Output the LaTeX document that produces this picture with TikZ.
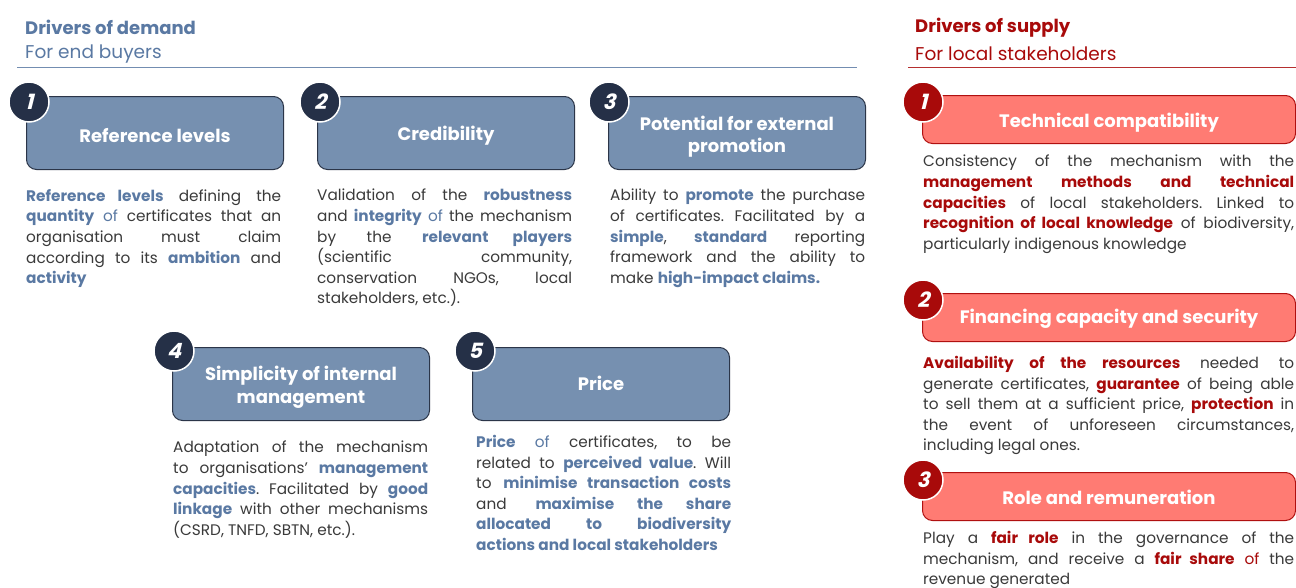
\documentclass[tikz,border=0pt]{standalone}
\usepackage{fontspec}
\setmainfont{Poppins}
\newfontfamily\numfont[BoldFeatures={FakeSlant=0.25}]{Poppins}
\definecolor{hblue}{HTML}{5A79A3}
\definecolor{dfill}{HTML}{7690B0}
\definecolor{dborder}{HTML}{2B3548}
\definecolor{navy}{HTML}{253047}
\definecolor{hred}{HTML}{A80A0A}
\definecolor{sfill}{HTML}{FF7B73}
\definecolor{sborder}{HTML}{B01010}
\definecolor{txt}{HTML}{3A3A3A}
\newcommand{\hb}[1]{\textbf{\color{hblue}#1}}
\newcommand{\hr}[1]{\textbf{\color{hred}#1}}
\newcommand{\nl}{\linebreak}
\newcommand{\nohy}{\frenchspacing\hyphenpenalty=10000\exhyphenpenalty=10000\tolerance=9999\emergencystretch=20pt\hfuzz=30pt}
\tikzset{
  dbox/.style={rounded corners=10pt, fill=dfill, draw=dborder, line width=1pt, anchor=north west,
    minimum width=257pt, minimum height=73pt},
  sbox/.style={rounded corners=10pt, fill=sfill, draw=sborder, line width=1pt, anchor=north west,
    minimum width=373pt, minimum height=48pt},
  ttl/.style={align=center, text=white, inner sep=0pt, font=\fontsize{18}{22.5}\selectfont\bfseries},
  dnum/.style={circle, fill=navy, draw=white, line width=1.5pt, minimum size=40pt, inner sep=0pt,
    text=white, font=\numfont\fontsize{21}{21}\selectfont\bfseries},
  snum/.style={dnum, fill=hred},
  body/.style={anchor=north west, inner sep=0pt, text width=255pt, align=justify, text=txt,
    font=\fontsize{15.3}{20.6}\selectfont\nohy},
  sbody/.style={body, text width=371pt},
  head/.style={anchor=west, inner sep=0pt},
}
\begin{document}
\begin{tikzpicture}[x=1pt,y=-1pt]
\useasboundingbox[fill=white] (0,0) rectangle (1296,587);
% headers
\node[head, text=hblue, font=\fontsize{18}{20}\selectfont\bfseries] (dh) at (25,27) {Drivers of demand};
\node[head, text=hblue, font=\fontsize{18.5}{20}\selectfont] (ds) at (25,54) {For end buyers};
\draw[hblue!85, line width=1pt] (17,67) -- (857,67);
\node[head, text=hred, font=\fontsize{18}{20}\selectfont\bfseries] (sh) at (915,28) {Drivers of supply};
\node[head, text=hred, font=\fontsize{18.5}{20}\selectfont] (ss) at (915,54) {For local stakeholders};
\draw[hred!85, line width=1pt] (908,67) -- (1296,67);
% demand boxes
\node[dbox] (b1) at (26,96) {};
\node[dbox] (b2) at (317,96) {};
\node[dbox] (b3) at (608,96) {};
\node[dbox] (b4) at (172,347) {};
\node[dbox] (b5) at (472,347) {};
\node[ttl, yshift=-3pt] (bt1) at (b1.center) {Reference levels};
\node[ttl, yshift=-3pt] (bt2) at (b2.center) {Credibility};
\node[ttl, yshift=-3.5pt] (bt3) at (b3.center) {Potential for external\\promotion};
\node[ttl, yshift=-3.5pt] (bt4) at (b4.center) {Simplicity of internal\\management};
\node[ttl, yshift=0.5pt] (bt5) at (b5.center) {Price};
\node[dnum] (n1) at (29,102) {1};
\node[dnum] (n2) at (320,102) {2};
\node[dnum] (n3) at (609,102) {3};
\node[dnum] (n4) at (174,351) {4};
\node[dnum] (n5) at (475,351) {5};
% demand text
\node[body] (t1) at (26,189) {\hb{Reference levels} defining the\nl{} \hb{quantity} \textcolor{hblue}{of} certificates that an\nl{} organisation must claim\nl{} according to its \hb{ambition} and\nl{} \hb{activity}};
\node[body] (t2) at (317,189) {Validation of the \hb{robustness}\nl{} and \hb{integrity} \textcolor{hblue}{of} the mechanism\nl{} by the \hb{relevant players}\nl{} (scientific community,\nl{} conservation NGOs, local\nl{} stakeholders, etc.).};
\node[body] (t3) at (610,189) {Ability to \hb{promote} the purchase\nl{} of certificates. Facilitated by a\nl{} \hb{simple}, \hb{standard} reporting\nl{} framework and the ability to\nl{} make \hb{high-impact claims.}};
\node[body] (t4) at (173,441) {Adaptation of the mechanism\nl{} to organisations' \hb{management}\nl{} \hb{capacities}. Facilitated by \hb{good}\nl{} \hb{linkage} with other mechanisms\nl{} (CSRD, TNFD, SBTN, etc.).};
\node[body] (t5) at (476,435) {\hb{Price} \textcolor{hblue}{of} certificates, to be\nl{} related to \hb{perceived value}. Will\nl{} to \hb{minimise transaction costs}\nl{} and \hb{maximise the share}\nl{} \hb{allocated to biodiversity}\nl{} \hb{actions and local stakeholders}};
% supply boxes
\node[sbox] (s1) at (922,95) {};
\node[sbox] (s2) at (922,293) {};
\node[sbox] (s3) at (922,472) {};
\node[ttl, yshift=-3pt] (st1) at (s1.center) {Technical compatibility};
\node[ttl, yshift=-1pt] (st2) at (s2.center) {Financing capacity and security};
\node[ttl, yshift=-1pt] (st3) at (s3.center) {Role and remuneration};
\node[snum] (m1) at (923,102) {1};
\node[snum] (m2) at (923,300) {2};
\node[snum] (m3) at (923,480) {3};
% supply text
\node[sbody] (u1) at (923,155) {Consistency of the mechanism with the\nl{} \hr{management methods and technical}\nl{} \hr{capacities} of local stakeholders. Linked to\nl{} \hr{recognition of local knowledge} of biodiversity,\nl{} particularly indigenous knowledge};
\node[sbody] (u2) at (923,356) {\hr{Availability of the resources} needed to\nl{} generate certificates, \hr{guarantee} of being able\nl{} to sell them at a sufficient price, \hr{protection} in\nl{} the event of unforeseen circumstances,\nl{} including legal ones.};
\node[sbody] (u3) at (923,531) {Play a \hr{fair role} in the governance of the\nl{} mechanism, and receive a \hr{fair share} \textcolor{hred}{of} the\nl{} revenue generated};
\end{tikzpicture}
\end{document}
